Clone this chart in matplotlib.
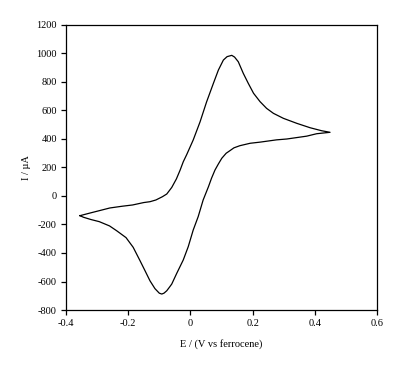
import matplotlib
matplotlib.use("Agg")
import matplotlib.pyplot as plt

# Forward (anodic) scan: potential (V vs ferrocene) and current (uA)
E_fwd = [-0.355, -0.320, -0.293, -0.259, -0.220, -0.186, -0.150, -0.130, -0.111, -0.090,
         -0.076, -0.060, -0.045, -0.033, -0.023, -0.012, 0.009, 0.031, 0.052, 0.074,
         0.090, 0.106, 0.118, 0.133, 0.142, 0.154, 0.170, 0.186, 0.203, 0.224,
         0.245, 0.267, 0.299, 0.342, 0.385, 0.422, 0.449]
I_fwd = [-138, -118, -103, -84, -72, -63, -46, -40, -28, -5,
         14, 60, 120, 182, 240, 290, 393, 520, 660, 791,
         884, 954, 978, 987, 975, 942, 861, 791, 721, 662,
         615, 580, 545, 510, 479, 458, 447]

# Reverse (cathodic) scan
E_rev = [0.449, 0.406, 0.374, 0.310, 0.277, 0.224, 0.192, 0.159, 0.140, 0.127,
         0.115, 0.101, 0.090, 0.079, 0.068, 0.058, 0.041, 0.025, 0.009, -0.007,
         -0.023, -0.044, -0.060, -0.066, -0.076, -0.085, -0.092, -0.100, -0.114, -0.130,
         -0.146, -0.162, -0.184, -0.207, -0.237, -0.260, -0.293, -0.320, -0.344, -0.355]
I_rev = [447, 437, 420, 400, 394, 378, 370, 353, 338, 318,
         300, 265, 225, 182, 125, 65, -28, -145, -239, -356,
         -449, -543, -618, -636, -665, -682, -688, -682, -650, -595,
         -524, -454, -360, -292, -244, -210, -180, -165, -149, -138]

x_ticks = [-0.4, -0.2, 0, 0.2, 0.4, 0.6]
x_labels = ["-0.4", "-0.2", "0", "0.2", "0.4", "0.6"]
y_ticks = [-800, -600, -400, -200, 0, 200, 400, 600, 800, 1000, 1200]

plt.rcParams['font.family'] = ['Liberation Serif', 'DejaVu Serif']
plt.rcParams['axes.unicode_minus'] = False

fig = plt.figure(figsize=(4.02, 3.68), dpi=100)
ax = fig.add_axes([66/402, 1-310/368, 311/402, 285/368])

ax.plot(E_fwd + E_rev[1:], I_fwd + I_rev[1:], color='black', linewidth=0.9)

ax.set_xlim(-0.4, 0.6)
ax.set_ylim(-800, 1200)
ax.set_xticks(x_ticks)
ax.set_xticklabels(x_labels)
ax.set_yticks(y_ticks)
ax.set_yticklabels([str(v) for v in y_ticks])
ax.tick_params(direction='out', length=3.5, width=0.9, labelsize=7.5, pad=3)
for s in ax.spines.values():
    s.set_linewidth(0.9)

ax.set_xlabel("E / (V vs ferrocene)", fontsize=7.5, labelpad=8)
ax.set_ylabel("I / µA", fontsize=7.5, labelpad=4)

fig.savefig("out.png", dpi=100)
